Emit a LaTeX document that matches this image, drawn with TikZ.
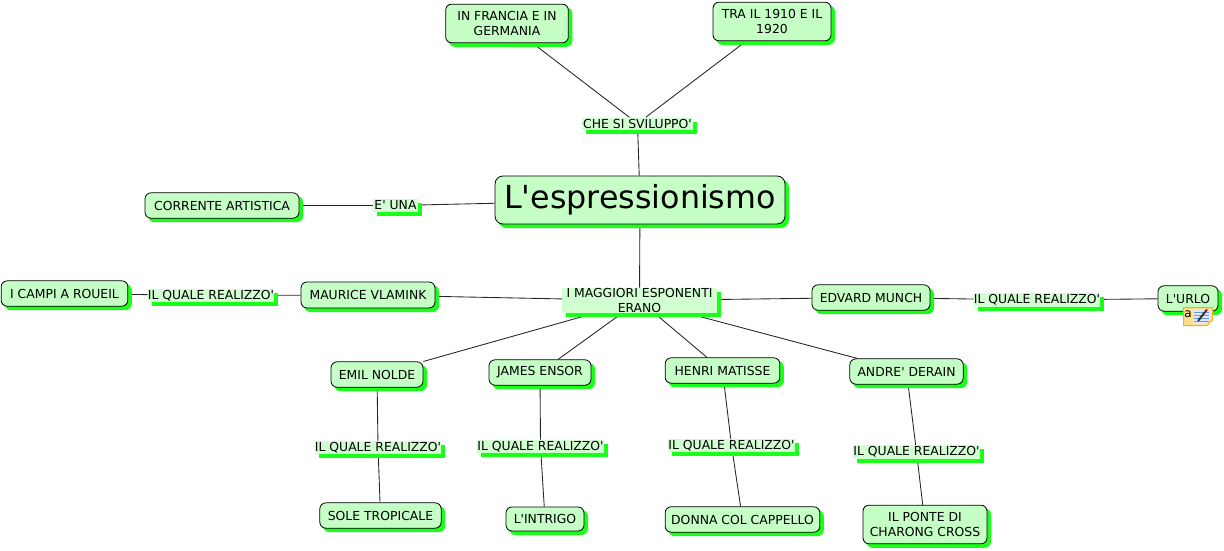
\documentclass[tikz,border=0pt]{standalone}
\usepackage{fontspec}
\setmainfont{DejaVu Sans}[Ligatures=TeXOff]
\usepackage{xcolor}
\usetikzlibrary{shadows, backgrounds}
\definecolor{conceptfill}{HTML}{C6FFC6}
\definecolor{phrasefill}{HTML}{D2FFD2}
\definecolor{shadowgreen}{HTML}{19FF19}
\definecolor{notefill}{HTML}{FFE08A}
\definecolor{noteedge}{HTML}{EDB21F}
\definecolor{noteline}{HTML}{5F9FD8}

\begin{document}
\begin{tikzpicture}[
        x=0.75pt, y=-0.75pt,
        concept/.style={rectangle, draw=black, line width=0.6pt, rounded corners=4.5pt, fill=conceptfill, inner sep=0pt, align=center, text=black, font=\fontsize{9.3pt}{11.5pt}\selectfont, copy shadow={shadow xshift=2.7pt, shadow yshift=-2.7pt, fill=shadowgreen, draw=shadowgreen, opacity=1}},
        phrase/.style={rectangle, fill=phrasefill, inner sep=0pt, align=center, text=black, font=\fontsize{9.3pt}{11.5pt}\selectfont, copy shadow={shadow xshift=3pt, shadow yshift=-3pt, fill=shadowgreen, draw=none, opacity=1}},
        link/.style={draw=black!85, line width=0.65pt}
    ]
    \useasboundingbox (0,0) rectangle (1224,550);

    % Main concept
    \node[concept, font=\fontsize{23.8pt}{30pt}\selectfont, rounded corners=6pt, minimum width=217.5pt, minimum height=36pt] (main) at (640,200) {L'espressionismo};

    % Top branch
    \node[phrase, minimum width=83pt, minimum height=9pt] (sviluppo) at (637.5,123.5) {CHE SI SVILUPPO'};
    \node[concept, minimum width=92pt, minimum height=29pt] (francia) at (507,23.5) {IN FRANCIA E IN\\GERMANIA};
    \node[concept, minimum width=88.5pt, minimum height=29pt] (anni) at (772,21.5) {TRA IL 1910 E IL\\1920};

    % Left branch
    \node[phrase, minimum width=34pt, minimum height=9.5pt] (una) at (395.5,205.5) {E' UNA};
    \node[concept, minimum width=115.5pt, minimum height=19pt] (corrente) at (222,205.5) {CORRENTE ARTISTICA};

    % Artists
    \node[phrase, minimum width=116pt, minimum height=19pt] (esponenti) at (639.5,300.5) {I MAGGIORI ESPONENTI\\ERANO};
    \node[concept, minimum width=100.5pt, minimum height=19.5pt] (vlamink) at (368,295) {MAURICE VLAMINK};
    \node[concept, minimum width=88.5pt, minimum height=19pt] (munch) at (871,297.5) {EDVARD MUNCH};
    \node[concept, minimum width=69pt, minimum height=19pt] (nolde) at (377,374.5) {EMIL NOLDE};
    \node[concept, minimum width=76.5pt, minimum height=19pt] (ensor) at (540,372.5) {JAMES ENSOR};
    \node[concept, minimum width=86pt, minimum height=19pt] (matisse) at (722.5,370.5) {HENRI MATISSE};
    \node[concept, minimum width=85pt, minimum height=19pt] (derain) at (906.5,371.5) {ANDRE' DERAIN};

    % Linking phrases to the works
    \node[phrase, minimum width=94.5pt, minimum height=10pt] (realvlamink) at (211,295.5) {IL QUALE REALIZZO'};
    \node[phrase, minimum width=94.5pt, minimum height=10pt] (realmunch) at (1037,300) {IL QUALE REALIZZO'};
    \node[phrase, minimum width=94.5pt, minimum height=10pt] (realnolde) at (378,447.5) {IL QUALE REALIZZO'};
    \node[phrase, minimum width=94.5pt, minimum height=10pt] (realensor) at (540.5,446.5) {IL QUALE REALIZZO'};
    \node[phrase, minimum width=94.5pt, minimum height=10pt] (realmatisse) at (731.5,445.5) {IL QUALE REALIZZO'};
    \node[phrase, minimum width=94.5pt, minimum height=10pt] (realderain) at (916.5,452) {IL QUALE REALIZZO'};

    % Works
    \node[concept, minimum width=95pt, minimum height=19pt] (campi) at (64.5,293.5) {I CAMPI A ROUEIL};
    \node[concept, minimum width=45pt, minimum height=19pt] (urlo) at (1188,298.5) {L'URLO};
    \node[concept, minimum width=91pt, minimum height=19pt] (sole) at (380.5,515.5) {SOLE TROPICALE};
    \node[concept, minimum width=58.5pt, minimum height=18pt] (intrigo) at (545,519) {L'INTRIGO};
    \node[concept, minimum width=116pt, minimum height=19pt] (donna) at (742.5,519.5) {DONNA COL CAPPELLO};
    \node[concept, minimum width=93pt, minimum height=29pt] (ponte) at (925,524.5) {IL PONTE DI\\CHARONG CROSS};

    % Note icon on L'URLO
    \fill[notefill, draw=noteedge, line width=0.75pt] (1183.5,307.5) -- (1212.5,307.5) -- (1212.5,320) -- (1207,325.5) -- (1183.5,325.5) -- cycle;
    \node[inner sep=0pt, font=\fontsize{9pt}{10pt}\selectfont] (notea) at (1188,314) {a};
    \fill[white!90!blue] (1193,309) -- (1211,309) -- (1211,319.5) -- (1206,324) -- (1193,324) -- cycle;
    \foreach \liney in {312,315,318,321} {
        \draw[noteline, line width=0.6pt] (1194,\liney) -- (1209,\liney);
    }
    \draw[black!80, line width=1.5pt] (1198,321) -- (1205,312);
    \draw[red!80!black, line width=1.5pt] (1205,312) -- (1207,309.5);

    \begin{scope}[on background layer]
    % Links: top branch
    \draw[link] (main) -- (sviluppo);
    \draw[link] (sviluppo) -- (francia);
    \draw[link] (sviluppo) -- (anni);

    % Links: left branch
    \draw[link] (main) -- (una);
    \draw[link] (una) -- (corrente);

    % Links: artists
    \draw[link] (main) -- (esponenti);
    \draw[link] (esponenti) -- (vlamink);
    \draw[link] (esponenti) -- (munch);
    \draw[link] (esponenti) -- (nolde);
    \draw[link] (esponenti) -- (ensor);
    \draw[link] (esponenti) -- (matisse);
    \draw[link] (esponenti) -- (derain);

    % Links: artists to works
    \draw[link] (vlamink) -- (realvlamink); \draw[link] (realvlamink) -- (campi);
    \draw[link] (munch) -- (realmunch); \draw[link] (realmunch) -- (urlo);
    \draw[link] (nolde) -- (realnolde); \draw[link] (realnolde) -- (sole);
    \draw[link] (ensor) -- (realensor); \draw[link] (realensor) -- (intrigo);
    \draw[link] (matisse) -- (realmatisse); \draw[link] (realmatisse) -- (donna);
    \draw[link] (derain) -- (realderain); \draw[link] (realderain) -- (ponte);
    \end{scope}
\end{tikzpicture}
\end{document}
